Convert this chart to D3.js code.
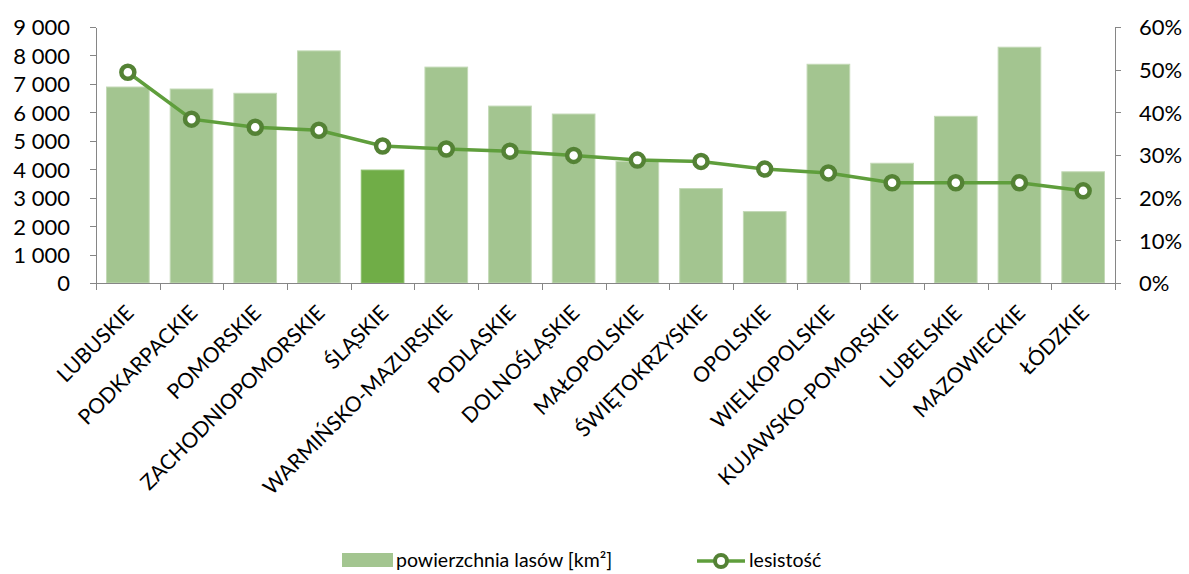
<!DOCTYPE html>
<meta charset="utf-8">
<style>
body { margin: 0; background: #fff; font-family: Lato, "Open Sans", sans-serif; }
.axis path, .axis line { stroke: #868686; fill: none; shape-rendering: crispEdges; }
.tick text { font-family: Lato, sans-serif; font-size: 22px; fill: #000; }
.cat { font-size: 21px; fill: #000; }
.legend text { font-size: 19.5px; fill: #000; }
</style>
<body>
<script src="https://cdn.jsdelivr.net/npm/d3@7"></script>
<script>

var regions = ["LUBUSKIE", "PODKARPACKIE", "POMORSKIE", "ZACHODNIOPOMORSKIE", "ŚLĄSKIE",
  "WARMIŃSKO-MAZURSKIE", "PODLASKIE", "DOLNOŚLĄSKIE", "MAŁOPOLSKIE", "ŚWIĘTOKRZYSKIE",
  "OPOLSKIE", "WIELKOPOLSKIE", "KUJAWSKO-POMORSKIE", "LUBELSKIE", "MAZOWIECKIE", "ŁÓDZKIE"];

// powierzchnia lasów [km²]
var forestArea = [6890, 6820, 6670, 8160, 3970, 7590, 6220, 5940, 4270, 3320, 2510, 7690, 4210, 5860, 8290, 3910];

// lesistość [%]
var forestCover = [49.4, 38.4, 36.5, 35.8, 32.1, 31.4, 30.9, 29.9, 28.8, 28.5, 26.7, 25.8, 23.5, 23.5, 23.5, 21.6];

var highlight = "ŚLĄSKIE";

var leftTicks = [0, 1000, 2000, 3000, 4000, 5000, 6000, 7000, 8000, 9000];
var rightTicks = [0, 10, 20, 30, 40, 50, 60];

var margin = {top: 27, right: 74, bottom: 291, left: 96},
    width = 1189 - margin.left - margin.right,
    height = 574 - margin.top - margin.bottom;

var svg = d3.select("body").append("svg")
    .attr("width", 1189)
    .attr("height", 574)
  .append("g")
    .attr("transform", "translate(" + margin.left + "," + margin.top + ")");

var x = d3.scaleBand()
    .domain(regions)
    .range([0, width])
    .paddingInner(0.33)
    .paddingOuter(0.165);

var y = d3.scaleLinear().domain([0, 9000]).range([height, 0]);
var y2 = d3.scaleLinear().domain([0, 60]).range([height, 0]);

var fmt = d3.formatLocale({decimal: ",", thousands: " ", grouping: [3], currency: ["", ""]}).format(",");

// bars
svg.selectAll(".bar")
    .data(regions)
  .enter().append("rect")
    .attr("class", "bar")
    .attr("x", function(d) { return x(d); })
    .attr("width", x.bandwidth())
    .attr("y", function(d, i) { return y(forestArea[i]); })
    .attr("height", function(d, i) { return height - y(forestArea[i]); })
    .attr("fill", function(d) { return d == highlight ? "#70ad47" : "#a3c590"; })
    .attr("stroke", function(d) { return d == highlight ? "#8cbf6c" : "#c3d9b6"; })
    .attr("stroke-width", 1);

// left axis
svg.append("g")
    .attr("class", "axis")
    .call(d3.axisLeft(y).tickValues(leftTicks).tickFormat(fmt).tickSize(6).tickSizeOuter(0).tickPadding(20))
  .selectAll("text")
    .attr("dy", "0.36em");

// right axis
svg.append("g")
    .attr("class", "axis")
    .attr("transform", "translate(" + width + ",0)")
    .call(d3.axisRight(y2).tickValues(rightTicks).tickFormat(function(d) { return d + "%"; }).tickSize(6).tickSizeOuter(0).tickPadding(18))
  .selectAll("text")
    .attr("dy", "0.36em");

// bottom axis with ticks between categories
var bottom = svg.append("g").attr("class", "axis").attr("transform", "translate(0," + height + ")");
bottom.append("line").attr("x1", 0).attr("x2", width).attr("y1", 0).attr("y2", 0);
bottom.selectAll(".sep")
    .data(d3.range(regions.length + 1))
  .enter().append("line")
    .attr("x1", function(i) { return Math.round(i * x.step()); })
    .attr("x2", function(i) { return Math.round(i * x.step()); })
    .attr("y1", 0)
    .attr("y2", 7);

bottom.selectAll(".cat")
    .data(regions)
  .enter().append("text")
    .attr("class", "cat")
    .attr("text-anchor", "end")
    .attr("dy", "0.35em")
    .attr("transform", function(d) {
      return "translate(" + (x(d) + x.bandwidth() / 2 + 2) + ",26) rotate(-45)";
    })
    .text(function(d) { return d; });

// line
var cx = function(d, i) { return x(regions[i]) + x.bandwidth() / 2; };
var line = d3.line()
    .x(function(d, i) { return x(regions[i]) + x.bandwidth() / 2; })
    .y(function(d) { return y2(d); });

svg.append("path")
    .datum(forestCover)
    .attr("fill", "none")
    .attr("stroke", "#5f9e3c")
    .attr("stroke-width", 3.5)
    .attr("d", line);

svg.selectAll(".dot")
    .data(forestCover)
  .enter().append("circle")
    .attr("class", "dot")
    .attr("cx", cx)
    .attr("cy", function(d) { return y2(d); })
    .attr("r", 6.5)
    .attr("fill", "#fff")
    .attr("stroke", "#548235")
    .attr("stroke-width", 4.5);

// legend
var legend = d3.select("svg").append("g").attr("class", "legend");
legend.append("rect")
    .attr("x", 342).attr("y", 553).attr("width", 51).attr("height", 14)
    .attr("fill", "#a3c590");
legend.append("text")
    .attr("x", 396).attr("y", 567)
    .text("powierzchnia lasów [km²]");
legend.append("line")
    .attr("x1", 697).attr("x2", 745).attr("y1", 561).attr("y2", 561)
    .attr("stroke", "#5f9e3c").attr("stroke-width", 3.5);
legend.append("circle")
    .attr("cx", 721).attr("cy", 561).attr("r", 6)
    .attr("fill", "#fff").attr("stroke", "#548235").attr("stroke-width", 4);
legend.append("text")
    .attr("x", 749).attr("y", 567)
    .text("lesistość");

</script>
